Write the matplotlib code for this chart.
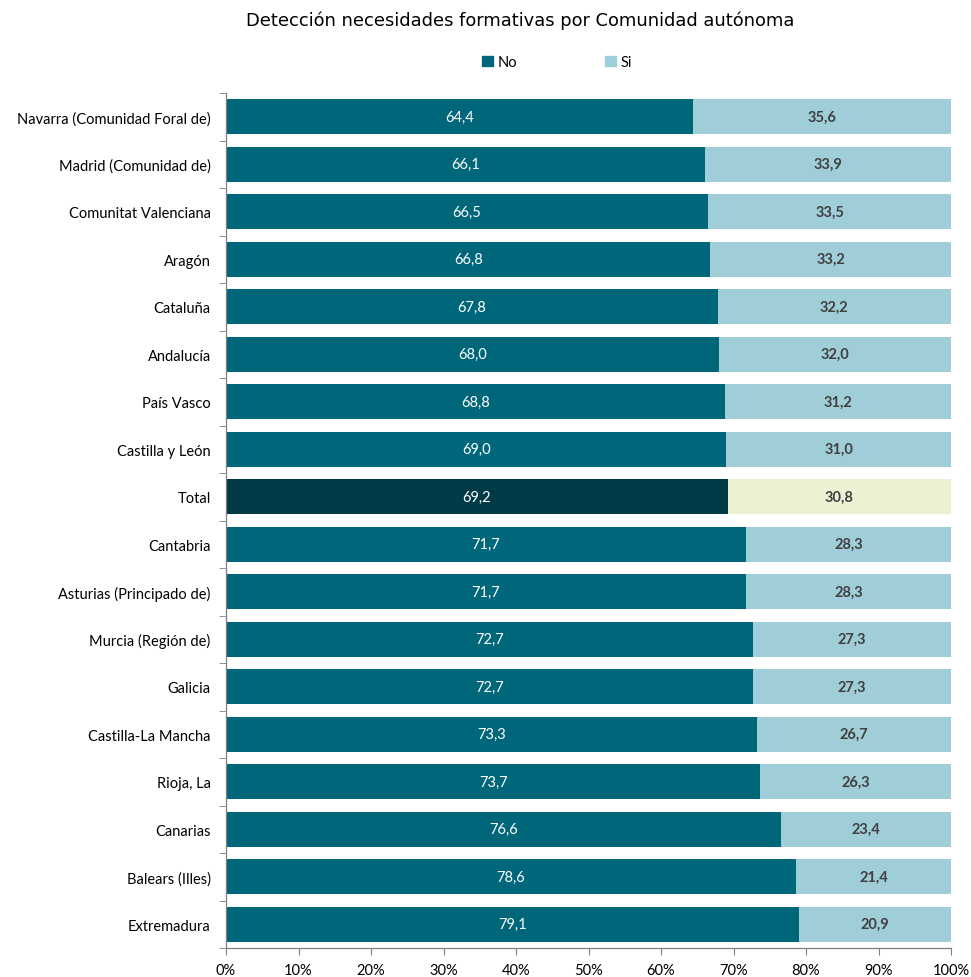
import matplotlib
matplotlib.use("Agg")
import matplotlib.pyplot as plt
import numpy as np

categories = [
    "Navarra (Comunidad Foral de)", "Madrid (Comunidad de)", "Comunitat Valenciana",
    "Aragón", "Cataluña", "Andalucía", "País Vasco", "Castilla y León", "Total",
    "Cantabria", "Asturias (Principado de)", "Murcia (Región de)", "Galicia",
    "Castilla-La Mancha", "Rioja, La", "Canarias", "Balears (Illes)", "Extremadura",
]
no_vals = [64.4, 66.1, 66.5, 66.8, 67.8, 68.0, 68.8, 69.0, 69.2,
           71.7, 71.7, 72.7, 72.7, 73.3, 73.7, 76.6, 78.6, 79.1]
si_vals = [35.6, 33.9, 33.5, 33.2, 32.2, 32.0, 31.2, 31.0, 30.8,
           28.3, 28.3, 27.3, 27.3, 26.7, 26.3, 23.4, 21.4, 20.9]
x_ticks = [0, 10, 20, 30, 40, 50, 60, 70, 80, 90, 100]

c_no, c_si = "#00677A", "#9FCDD8"
c_no_tot, c_si_tot = "#003A47", "#EAF2D3"
label_font = "Lato"

fig = plt.figure(figsize=(9.71, 9.78), dpi=100)
ax = fig.add_axes([226 / 971, 29 / 978, 725 / 971, 855 / 978])

n = len(categories)
y = np.arange(n)
col_no = [c_no_tot if c == "Total" else c_no for c in categories]
col_si = [c_si_tot if c == "Total" else c_si for c in categories]

ax.barh(y, no_vals, height=0.74, color=col_no, label="No")
ax.barh(y, si_vals, left=no_vals, height=0.74, color=col_si, label="Si")

for i in range(n):
    ax.text(no_vals[i] / 2, y[i], f"{no_vals[i]:.1f}".replace(".", ","),
            ha="center", va="center", color="white", fontsize=10.5, family=label_font)
    ax.text(no_vals[i] + si_vals[i] / 2, y[i], f"{si_vals[i]:.1f}".replace(".", ","),
            ha="center", va="center", color="#404040", fontsize=10.5,
            fontweight="bold", family=label_font)

ax.set_ylim(n - 0.5, -0.5)
ax.set_xlim(0, 100)
ax.set_yticks(y)
ax.set_yticklabels(categories, family=label_font, fontsize=10.5)
ax.set_yticks(np.arange(-0.5, n, 1.0), minor=True)
ax.tick_params(axis="y", which="major", length=0, pad=11)
ax.tick_params(axis="y", which="minor", length=5, color="#7f7f7f")
ax.set_xticks(x_ticks)
ax.set_xticklabels([f"{t}%" for t in x_ticks], family=label_font, fontsize=10.5)
ax.tick_params(axis="x", length=5, color="#7f7f7f", pad=6)

for s in ("top", "right"):
    ax.spines[s].set_visible(False)
for s in ("left", "bottom"):
    ax.spines[s].set_color("#7f7f7f")
    ax.spines[s].set_linewidth(0.9)

fig.text(520 / 971, 1 - 21 / 978, "Detección necesidades formativas por Comunidad autónoma",
         ha="center", va="center", fontsize=12.9, family="DejaVu Sans")

handles = [plt.Rectangle((0, 0), 1, 1, color=c_no), plt.Rectangle((0, 0), 1, 1, color=c_si)]
fig.legend(handles, ["No", "Si"], loc="center", bbox_to_anchor=(557 / 971, 1 - 63 / 978),
           ncol=2, frameon=False, handlelength=0.75, handleheight=0.75, handletextpad=0.3,
           columnspacing=6.0, prop={"family": label_font, "size": 10.5})

fig.savefig("out.png", dpi=100)
